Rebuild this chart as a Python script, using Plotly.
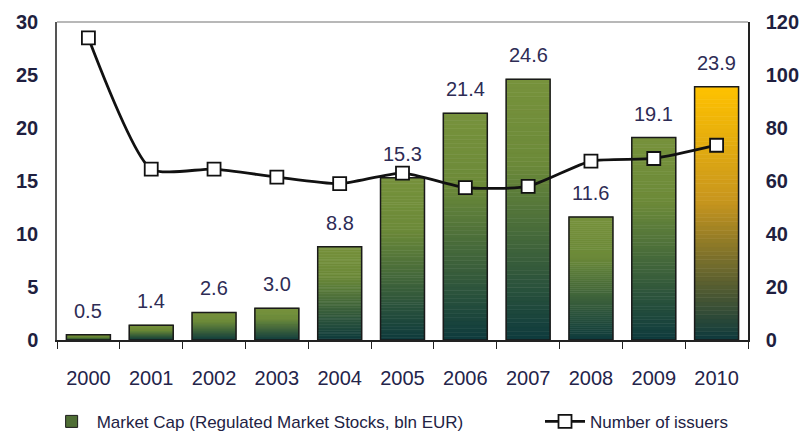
import plotly.graph_objects as go

years = ["2000", "2001", "2002", "2003", "2004", "2005", "2006", "2007", "2008", "2009", "2010"]
market_cap = [0.5, 1.4, 2.6, 3.0, 8.8, 15.3, 21.4, 24.6, 11.6, 19.1, 23.9]
issuers = [114, 64.5, 64.5, 61.5, 59, 63, 57.5, 58, 67.5, 68.5, 73.5]
cap_labels = ["0.5", "1.4", "2.6", "3.0", "8.8", "15.3", "21.4", "24.6", "11.6", "19.1", "23.9"]
left_ticks = [0, 5, 10, 15, 20, 25, 30]
right_ticks = [0, 20, 40, 60, 80, 100, 120]

GREEN_STOPS = [(0.0, (14, 58, 61)), (0.68, (108, 138, 57)), (1.0, (119, 146, 60))]
GOLD_STOPS = [(0.0, (14, 58, 61)), (0.55, (200, 150, 30)), (1.0, (255, 194, 0))]


def interp(stops, t):
    for (t0, c0), (t1, c1) in zip(stops[:-1], stops[1:]):
        if t0 <= t <= t1:
            f = (t - t0) / (t1 - t0)
            return "rgb(%d,%d,%d)" % tuple(round(a + (b - a) * f) for a, b in zip(c0, c1))
    return "rgb(%d,%d,%d)" % stops[-1][1]


N = 60
fig = go.Figure()
for i in range(N):
    t = (i + 0.5) / N
    cols = [interp(GOLD_STOPS if y == "2010" else GREEN_STOPS, t) for y in years]
    fig.add_trace(go.Bar(
        x=years, y=[v / N for v in market_cap], base=[v * i / N for v in market_cap],
        marker=dict(color=cols, line=dict(color=cols, width=0.6)),
        width=0.7, showlegend=False, hoverinfo="skip", yaxis="y",
    ))

# outline
fig.add_trace(go.Bar(
    x=years, y=market_cap, base=[0] * len(years),
    marker=dict(color="rgba(0,0,0,0)", line=dict(color="#1a1a1a", width=1.5)),
    width=0.7, showlegend=False, yaxis="y",
))

# legend entry for bars
fig.add_trace(go.Bar(
    x=[years[0]], y=[None], name="Market Cap (Regulated Market Stocks, bln EUR)",
    marker=dict(color="#4f6e35", line=dict(color="#1a1a1a", width=1)), showlegend=True,
    legend="legend",
))

fig.add_trace(go.Scatter(
    x=years, y=issuers, name="Number of issuers", yaxis="y2", mode="lines+markers",
    line=dict(color="#111111", width=2.8, shape="spline", smoothing=0.6),
    marker=dict(symbol="square", size=13, color="white", line=dict(color="#111111", width=1.8)),
    legend="legend2",
))

# value labels (category axis: annotation x is the category index)
for idx, (v, lab) in enumerate(zip(market_cap, cap_labels)):
    fig.add_annotation(x=idx, y=v, xref="x", yref="y", text=lab, showarrow=False,
                       yshift=24, yanchor="middle",
                       font=dict(family="Liberation Sans, Arial", size=20, color="#2e2c55"))

fig.add_shape(type="line", xref="paper", yref="paper", x0=0, x1=1, y0=1, y1=1,
              line=dict(color="#a0a0a0", width=1.5))

legend_font = dict(family="Liberation Sans Narrow, Liberation Sans, Arial", size=17, color="#222244")

# page body has an 8px margin, so the figure is 8px smaller on each side
fig.update_layout(
    width=801, height=426, barmode="overlay",
    margin=dict(l=49, r=61, t=14, b=94, autoexpand=False),
    paper_bgcolor="white", plot_bgcolor="white",
    font=dict(family="Liberation Sans, Arial", size=20, color="#222244"),
    xaxis=dict(type="category", categoryorder="array", categoryarray=years,
               range=[-0.5, len(years) - 0.5],
               showline=True, linecolor="#222222", linewidth=1.5,
               ticks="outside", tickson="boundaries", ticklen=7, tickcolor="#222222",
               tickfont=dict(size=20, color="#24244a"), ticklabelstandoff=19,
               showgrid=False, automargin=False),
    yaxis=dict(range=[0, 30], tickvals=left_ticks, showgrid=False, zeroline=False,
               showline=True, linecolor="#555555", linewidth=1.5, automargin=False,
               tickfont=dict(size=20, color="#1f1f40", family="Liberation Sans, Arial", weight="bold"),
               ticks="", ticklabelstandoff=13),
    yaxis2=dict(range=[0, 120], tickvals=right_ticks, overlaying="y", side="right",
                showgrid=False, zeroline=False, showline=True, linecolor="#222222", linewidth=1.5,
                automargin=False,
                tickfont=dict(size=20, color="#1f1f40", family="Liberation Sans, Arial", weight="bold"),
                ticks="", ticklabelstandoff=12),
    legend=dict(orientation="h", x=-0.015, xanchor="left", y=-0.314, yanchor="bottom",
                font=legend_font, itemwidth=40),
    legend2=dict(orientation="h", x=0.699, xanchor="left", y=-0.314, yanchor="bottom",
                 font=legend_font, itemwidth=40),
)

fig.write_html("out.html")
